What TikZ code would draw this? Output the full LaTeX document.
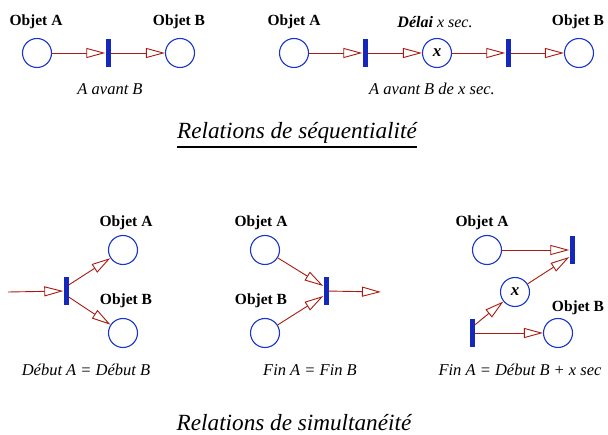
\documentclass[tikz,border=0pt]{standalone}
\usepackage{fontspec}
\setmainfont{Liberation Serif}
\usetikzlibrary{arrows.meta}
\definecolor{pred}{RGB}{170,25,15}
\definecolor{pblue}{RGB}{25,55,205}
\definecolor{bblue}{RGB}{20,40,190}
\tikzset{
  place/.style={circle,draw=pblue,line width=1.1pt,minimum size=29pt,inner sep=0pt,fill=white},
  trans/.style={rectangle,fill=bblue,minimum width=5pt,minimum height=28pt,inner sep=0pt},
  arr/.style={draw=pred,line width=0.9pt,-{Triangle[open,length=19pt,width=10pt,fill=white]}},
  obj/.style={font=\fontsize{15.5}{18}\selectfont\bfseries,inner sep=0pt},
  caplbl/.style={font=\fontsize{16.5}{19}\selectfont\itshape,inner sep=0pt},
  ttl/.style={font=\fontsize{23.2}{27}\selectfont\itshape,inner sep=0pt},
}
\begin{document}
\begin{tikzpicture}[x=1pt,y=-1pt]
\useasboundingbox (0,0) rectangle (608,435);
% top left
\node[place] (A1) at (37,53) {};
\node[trans] (T1) at (108,53) {};
\node[place] (B1) at (180,53) {};
\node[obj] (lA1) at (36,22) {Objet A};
\node[obj] (lB1) at (179,22) {Objet B};
\node[caplbl] (c1) at (110,89) {A avant B};
\draw[arr] (A1) -- (T1);
\draw[arr] (T1) -- (B1);
% top right
\node[place] (A2) at (294,53) {};
\node[trans] (T2) at (365,53) {};
\node[place,font=\fontsize{17}{19}\selectfont\bfseries\itshape] (X1) at (437,53) {x};
\node[trans] (T3) at (508,53) {};
\node[place] (B2) at (579,53) {};
\node[obj] (lA2) at (294,22) {Objet A};
\node[caplbl,font=\fontsize{16}{18}\selectfont\itshape] (lX1) at (435,22) {\textbf{Délai} x sec.};
\node[obj] (lB2) at (578,22) {Objet B};
\node[caplbl] (c2) at (432,89) {A avant B de x sec.};
\draw[arr] (A2) -- (T2);
\draw[arr] (T2) -- (X1);
\draw[arr] (X1) -- (T3);
\draw[arr] (T3) -- (B2);
% title 1
\node[ttl,anchor=base] (t1) at (297,139) {Relations de séquentialité};
\draw[line width=1.3pt] (t1.base west) ++(0,8) coordinate (u1) -- (t1.base east |- u1);
% bottom left
\coordinate (in4) at (8,292);
\node[trans] (T4) at (66,291) {};
\node[place] (A3) at (123,250) {};
\node[place] (B3) at (123,333) {};
\node[obj] (lA3) at (126,223) {Objet A};
\node[obj] (lB3) at (126,301) {Objet B};
\node[caplbl] (c3) at (86,370) {Début A = Début B};
\draw[arr] (in4) -- (T4);
\draw[arr] ([yshift=6pt]T4.east) -- (A3);
\draw[arr] ([yshift=-6pt]T4.east) -- (B3);
% bottom middle
\node[place] (A4) at (265,250) {};
\node[place] (B4) at (265,333) {};
\node[trans] (T5) at (326,291) {};
\coordinate (out5) at (381,292);
\node[obj] (lA4) at (261,223) {Objet A};
\node[obj] (lB4) at (261,301) {Objet B};
\node[caplbl] (c4) at (310,370) {Fin A = Fin B};
\draw[arr] (A4) -- ([yshift=5pt]T5.west);
\draw[arr] (B4) -- ([yshift=-5pt]T5.west);
\draw[arr] (T5) -- (out5);
% bottom right
\node[place] (A5) at (487,250) {};
\node[trans] (T6) at (572,250) {};
\node[place,font=\fontsize{17}{19}\selectfont\bfseries\itshape] (X2) at (515,292) {x};
\node[trans] (T7) at (472,333) {};
\node[place] (B5) at (558,333) {};
\node[obj] (lA5) at (482,223) {Objet A};
\node[obj] (lB5) at (578,308) {Objet B};
\node[caplbl] (c5) at (520,370) {Fin A = Début B + x sec};
\draw[arr] (A5) -- (T6);
\draw[arr] (X2) -- ([yshift=-7pt]T6.west);
\draw[arr] ([yshift=8pt]T7.east) -- (X2);
\draw[arr] (T7) -- (B5);
% title 2
\node[ttl] (t2) at (294,423) {Relations de simultanéité};
\end{tikzpicture}
\end{document}
